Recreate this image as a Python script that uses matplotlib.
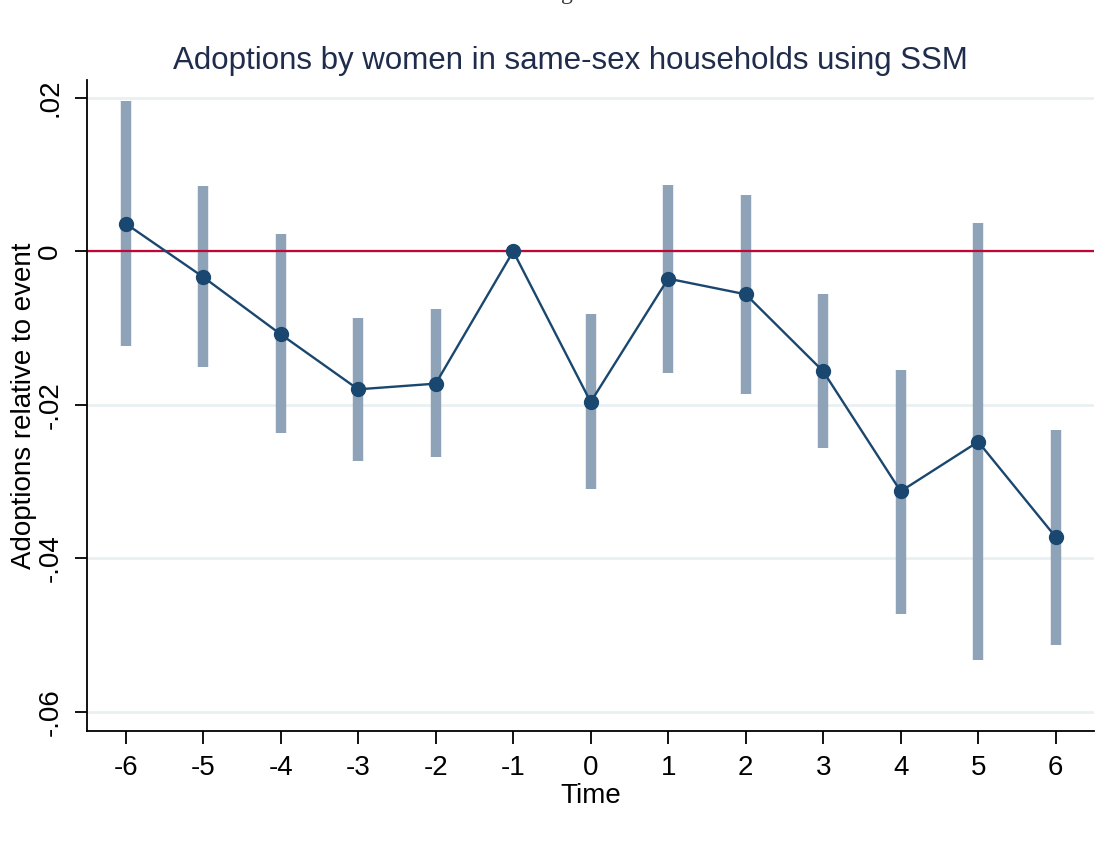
import numpy as np
import matplotlib
matplotlib.use("Agg")
import matplotlib.pyplot as plt

plt.rcParams['font.family'] = ['Liberation Sans', 'DejaVu Sans']

# event time and estimates
time = [-6, -5, -4, -3, -2, -1, 0, 1, 2, 3, 4, 5, 6]
coef = [0.00361, -0.00335, -0.01081, -0.01798, -0.01724, 0.0, -0.01963,
        -0.00356, -0.0056, -0.01563, -0.03127, -0.02481, -0.03722]
ci_hi = [0.01954, 0.00851, 0.00221, -0.00864, -0.00747, 0.0, -0.00812,
         0.0086, 0.00739, -0.0056, -0.01541, 0.00373, -0.02327]
ci_lo = [-0.01234, -0.01507, -0.02371, -0.02736, -0.0268, 0.0, -0.03101,
         -0.0158, -0.01854, -0.02563, -0.0472, -0.05329, -0.05133]
yticks = [-0.06, -0.04, -0.02, 0, 0.02]
ytick_labels = ['-.06', '-.04', '-.02', '0', '.02']

navy = '#1a476f'
bar_col = '#8ea3b8'

fig = plt.figure(figsize=(11.12, 8.42), dpi=100)
ax = fig.add_axes([0.0782, 0.1318, 0.906, 0.773])

# bit of the page caption cut off at the top edge
fig.text(0.51, 1.0 + 1.0 / 842, 'g', family='Liberation Serif', fontsize=17,
         ha='center', va='baseline', color='#333333')

for yt in yticks:
    ax.axhline(yt, color='#eaf0f2', lw=2, zorder=0)

# confidence bars (skip the reference period)
for t, lo, hi in zip(time, ci_lo, ci_hi):
    if hi != lo:
        ax.plot([t, t], [lo, hi], color=bar_col, lw=7.5, solid_capstyle='butt', zorder=1)

ax.axhline(0, color='#c10534', lw=1.6, zorder=2)
ax.plot(time, coef, '-o', color=navy, lw=1.7, ms=10, zorder=3)

ax.set_xlim(-6.5, 6.5)
ax.set_ylim(-0.0625, 0.0223)
ax.set_xticks(time)
ax.set_xticklabels([str(t) for t in time])
ax.set_yticks(yticks)
ax.set_yticklabels(ytick_labels, rotation=90, va='center')

for s in ['top', 'right']:
    ax.spines[s].set_visible(False)
for s in ['left', 'bottom']:
    ax.spines[s].set_linewidth(1.3)

ax.tick_params(axis='both', labelsize=20, length=9, width=1.3, pad=8)
ax.set_xlabel('Time', fontsize=20, labelpad=2)
ax.set_ylabel('Adoptions relative to event', fontsize=20, labelpad=0)
ax.set_title('Adoptions by women in same-sex households using SSM',
             fontsize=22.5, color='#1f2c4c', pad=8, x=0.48)

fig.savefig('out.png', dpi=100)
